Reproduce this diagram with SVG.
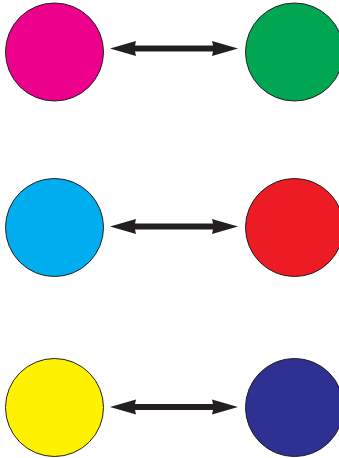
<svg xmlns="http://www.w3.org/2000/svg" width="339" height="458" viewBox="0 0 339 458">
<style>
.n{stroke:#231F20;stroke-width:1}
.a{fill:#231F20}
</style>
<defs>
<path id="arr" d="M0,0 L26,-7.5 L25,-3 L103,-3 L102,-7.5 L128,0 L102,7.5 L103,3 L25,3 L26,7.5 Z"/>
</defs>
<rect width="339" height="458" fill="#fff"/>
<g id="magenta"><circle class="n" cx="54.5" cy="52" r="49" fill="#EC008C"/></g>
<g id="green"><circle class="n" cx="294.5" cy="52" r="49" fill="#00A651"/></g>
<g id="cyan"><circle class="n" cx="54.5" cy="227.5" r="49" fill="#00AEEF"/></g>
<g id="red"><circle class="n" cx="294.5" cy="227.5" r="49" fill="#ED1C24"/></g>
<g id="yellow"><circle class="n" cx="54.5" cy="407.5" r="49" fill="#FFF200"/></g>
<g id="navy"><circle class="n" cx="294.5" cy="407.5" r="49" fill="#2E3192"/></g>
<g id="connectors" class="a">
<use href="#arr" transform="translate(110,48.5)"/>
<use href="#arr" transform="translate(110,226.5)"/>
<use href="#arr" transform="translate(110,407)"/>
</g>
</svg>
